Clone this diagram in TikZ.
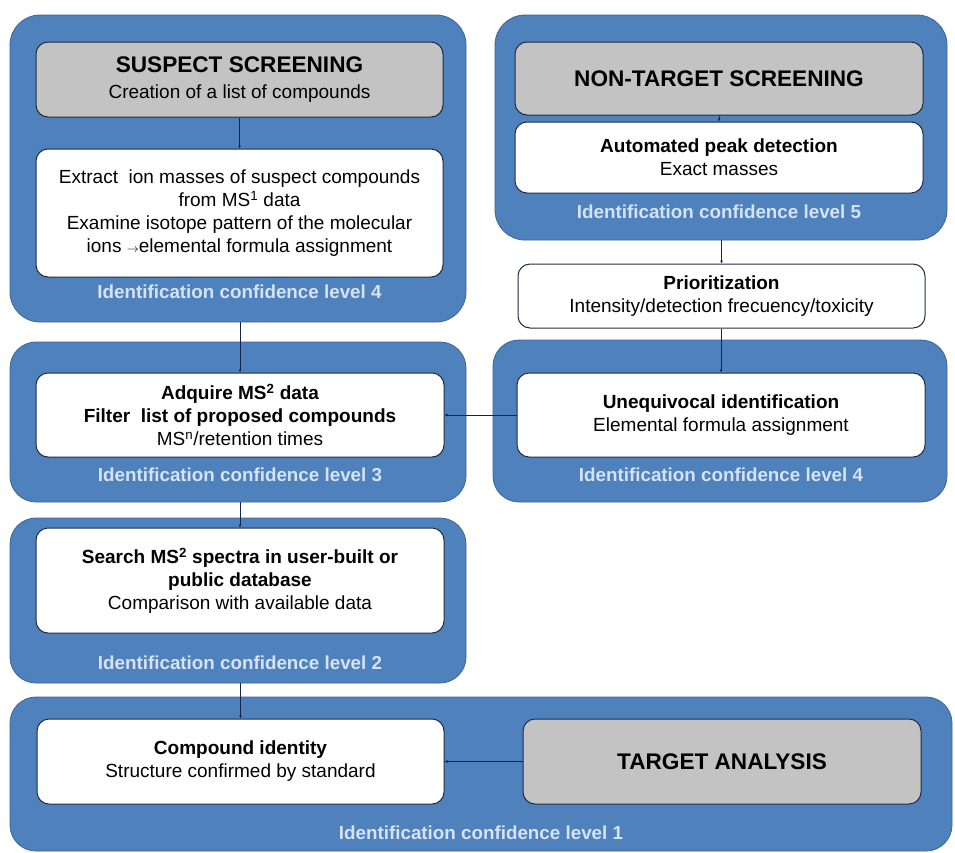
\documentclass[tikz,border=0pt]{standalone}
\usepackage{fontspec}
\setmainfont{Liberation Sans}
\usetikzlibrary{arrows.meta}
\definecolor{panelblue}{HTML}{4F81BD}
\definecolor{paneledge}{HTML}{3C6596}
\definecolor{greyfill}{HTML}{C3C3C3}
\definecolor{boxedge}{HTML}{1E2B45}
\definecolor{lvltext}{HTML}{D5E3F5}
\definecolor{linecol}{HTML}{14244A}
\tikzset{
  panel/.style={draw=paneledge, line width=0.8pt, fill=panelblue, rounded corners=30pt, inner sep=0pt},
  greybox/.style={draw=boxedge, line width=1pt, fill=greyfill, rounded corners=12pt, inner sep=0pt, align=center, text=black},
  whitebox/.style={draw=boxedge, line width=1pt, fill=white, rounded corners=12pt, inner sep=0pt, align=center, text=black},
  lvl/.style={text=lvltext, font=\fontsize{18.8}{22}\selectfont\bfseries, inner sep=0pt},
  conn/.style={draw=linecol, line width=1pt, -{Latex[length=3pt,width=3pt]}},
  body/.style={font=\fontsize{19}{23}\selectfont},
  head/.style={font=\fontsize{22.6}{26}\selectfont\bfseries}
}
\begin{document}
\begin{tikzpicture}[x=1pt,y=-1pt]
\useasboundingbox (0,0) rectangle (955,852);
\fill[white] (0,0) rectangle (955,852);
% panels
\node[panel, minimum width=456pt, minimum height=307pt] (P1) at (238,168.5) {};
\node[panel, minimum width=452pt, minimum height=225pt] (P2) at (721,127.5) {};
\node[panel, minimum width=454pt, minimum height=162pt, rounded corners=26pt] (P3) at (720,421) {};
\node[panel, minimum width=456pt, minimum height=160pt, rounded corners=26pt] (P4) at (238,422) {};
\node[panel, minimum width=456pt, minimum height=165pt, rounded corners=26pt] (P5) at (238,600.5) {};
\node[panel, minimum width=942pt, minimum height=154pt, rounded corners=26pt] (P6) at (481,774) {};
% inner boxes
\node[greybox, minimum width=407pt, minimum height=75pt, font=\fontsize{19}{25.5}\selectfont] (G1) at (239.5,79.5)
  {{\fontsize{22.6}{25.5}\selectfont\bfseries SUSPECT SCREENING}\\ Creation of a list of compounds};
\node[whitebox, minimum width=407pt, minimum height=128pt, body] (W1) at (239.5,213)
  {Extract\ \ ion masses of suspect compounds\\ from MS\textsuperscript{1} data\\ Examine isotope pattern of the molecular\\ ions {\fontsize{12}{12}\selectfont$\rightarrow$}elemental formula assignment};
\node[lvl] (L1) at (239.5,292) {Identification confidence level 4};

\node[greybox, minimum width=408pt, minimum height=73pt, head] (G2) at (719,78.5) {NON-TARGET SCREENING};
\node[whitebox, minimum width=408pt, minimum height=71pt, body] (W2) at (719,157.5)
  {\textbf{Automated peak detection}\\ Exact masses};
\node[lvl] (L2) at (719,212) {Identification confidence level 5};

\node[whitebox, minimum width=407pt, minimum height=64pt, body] (Pri) at (721.5,296)
  {\textbf{Prioritization}\\ Intensity/detection frecuency/toxicity};

\node[whitebox, minimum width=408pt, minimum height=84pt, body] (W3) at (721,415)
  {\textbf{Unequivocal identification}\\ Elemental formula assignment};
\node[lvl] (L3) at (721,475) {Identification confidence level 4};

\node[whitebox, minimum width=408pt, minimum height=84pt, body] (W4) at (240,415)
  {\textbf{Adquire MS\textsuperscript{2} data}\\ \textbf{Filter\ \ list of proposed compounds}\\ MS\textsuperscript{n}/retention times};
\node[lvl] (L4) at (240,475) {Identification confidence level 3};

\node[whitebox, minimum width=408pt, minimum height=105pt, body] (W5) at (240,580.5)
  {\textbf{Search MS\textsuperscript{2} spectra in user-built or}\\ \textbf{public database}\\ Comparison with available data};
\node[lvl] (L5) at (240,663) {Identification confidence level 2};

\node[whitebox, minimum width=407pt, minimum height=85pt, body] (W6) at (240.5,761.5)
  {\textbf{Compound identity}\\ Structure confirmed by standard};
\node[greybox, minimum width=398pt, minimum height=85pt, head] (G6) at (722,761.5) {TARGET ANALYSIS};
\node[lvl] (L6) at (481,833) {Identification confidence level 1};
% connectors
\draw[conn] (G1.south) -- (W1.north);
\draw[conn] (P1.south -| W4.north) -- (W4.north);
\draw[conn] (P4.south -| W5.north) -- (W5.north);
\draw[conn] (P5.south -| W6.north) -- (W6.north);
\draw[conn] (G2.south -| W2.north) -- (W2.north);
\draw[conn] (P2.south -| Pri.north) -- (Pri.north);
\draw[conn] (Pri.south -| W3.north) -- (W3.north);
\draw[conn] (W3.west) -- (W4.east);
\draw[conn] (G6.west) -- (W6.east);
\end{tikzpicture}
\end{document}
